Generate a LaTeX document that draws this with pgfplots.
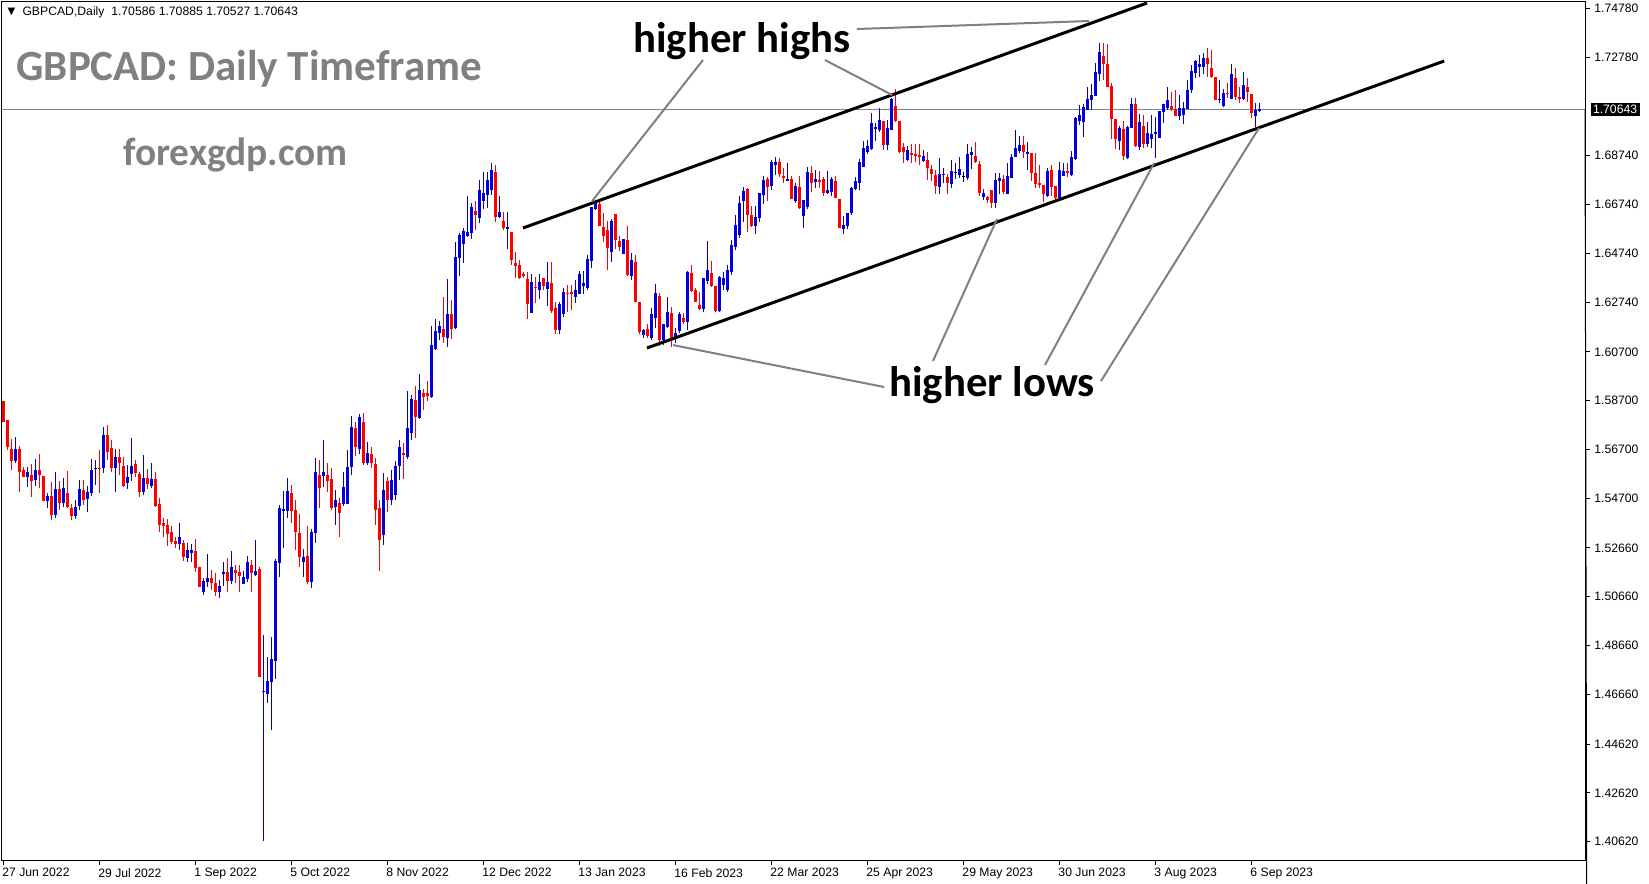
\documentclass[border=0pt]{standalone}
\usepackage{fontspec}
\setmainfont{Liberation Sans}
\newfontfamily\calib{Carlito}
\newfontfamily\dejavu{DejaVu Sans}
\usepackage{pgfplots}
\usepackage{pgfplotstable}
\pgfplotsset{compat=1.18}

\definecolor{cblue}{RGB}{0,0,215}
\definecolor{cred}{RGB}{255,0,0}
\definecolor{pline}{RGB}{119,136,153}
\definecolor{txtgray}{RGB}{128,128,128}

% daily GBPCAD candles, k = bar number from 27 Jun 2022
\pgfplotstableread{
k o h l c
0 1.5868 1.5868 1.5782 1.5782
1 1.5790 1.5790 1.5667 1.5680
2 1.5672 1.5713 1.5585 1.5622
3 1.5622 1.5721 1.5614 1.5672
4 1.5672 1.5684 1.5495 1.5577
5 1.5585 1.5598 1.5557 1.5557
6 1.5557 1.5598 1.5516 1.5577
7 1.5565 1.5610 1.5475 1.5540
8 1.5544 1.5631 1.5520 1.5585
9 1.5585 1.5651 1.5512 1.5565
10 1.5561 1.5561 1.5458 1.5458
11 1.5458 1.5491 1.5430 1.5479
12 1.5479 1.5536 1.5380 1.5401
13 1.5401 1.5577 1.5389 1.5508
14 1.5508 1.5540 1.5421 1.5450
15 1.5450 1.5553 1.5434 1.5512
16 1.5491 1.5581 1.5430 1.5434
17 1.5430 1.5446 1.5380 1.5397
18 1.5397 1.5462 1.5385 1.5434
19 1.5438 1.5544 1.5421 1.5508
20 1.5503 1.5544 1.5442 1.5462
21 1.5467 1.5520 1.5413 1.5495
22 1.5491 1.5631 1.5479 1.5585
23 1.5590 1.5626 1.5524 1.5594
24 1.5594 1.5667 1.5491 1.5590
25 1.5594 1.5762 1.5573 1.5729
26 1.5729 1.5770 1.5626 1.5659
27 1.5676 1.5708 1.5577 1.5594
28 1.5594 1.5672 1.5495 1.5639
29 1.5639 1.5672 1.5565 1.5614
30 1.5602 1.5639 1.5516 1.5520
31 1.5532 1.5606 1.5508 1.5557
32 1.5569 1.5717 1.5540 1.5602
33 1.5610 1.5626 1.5557 1.5573
34 1.5569 1.5577 1.5475 1.5495
35 1.5495 1.5647 1.5483 1.5553
36 1.5553 1.5590 1.5508 1.5528
37 1.5520 1.5614 1.5512 1.5549
38 1.5549 1.5577 1.5434 1.5438
39 1.5446 1.5471 1.5331 1.5360
40 1.5368 1.5389 1.5311 1.5356
41 1.5360 1.5385 1.5274 1.5323
42 1.5331 1.5356 1.5282 1.5290
43 1.5294 1.5311 1.5266 1.5282
44 1.5282 1.5368 1.5257 1.5311
45 1.5286 1.5298 1.5212 1.5229
46 1.5225 1.5286 1.5208 1.5257
47 1.5245 1.5282 1.5208 1.5257
48 1.5253 1.5303 1.5167 1.5184
49 1.5188 1.5188 1.5106 1.5106
50 1.5085 1.5143 1.5073 1.5130
51 1.5126 1.5241 1.5106 1.5143
52 1.5143 1.5175 1.5093 1.5122
53 1.5122 1.5163 1.5069 1.5085
54 1.5085 1.5134 1.5061 1.5110
55 1.5159 1.5208 1.5110 1.5167
56 1.5167 1.5225 1.5085 1.5130
57 1.5130 1.5253 1.5118 1.5188
58 1.5175 1.5196 1.5122 1.5163
59 1.5167 1.5196 1.5085 1.5151
60 1.5118 1.5171 1.5118 1.5147
61 1.5139 1.5233 1.5126 1.5208
62 1.5196 1.5216 1.5085 1.5163
63 1.5155 1.5298 1.5151 1.5171
64 1.5180 1.5188 1.4737 1.4737
65 1.4675 1.4909 1.4064 1.4679
66 1.4667 1.4819 1.4630 1.4720
67 1.4716 1.4901 1.4519 1.4811
68 1.4802 1.5221 1.4729 1.5212
69 1.5204 1.5442 1.5147 1.5430
70 1.5417 1.5499 1.5266 1.5426
71 1.5417 1.5553 1.5389 1.5499
72 1.5491 1.5524 1.5368 1.5417
73 1.5421 1.5462 1.5257 1.5331
74 1.5327 1.5405 1.5188 1.5229
75 1.5208 1.5262 1.5147 1.5229
76 1.5233 1.5356 1.5118 1.5126
77 1.5126 1.5344 1.5102 1.5331
78 1.5327 1.5635 1.5286 1.5577
79 1.5565 1.5626 1.5430 1.5512
80 1.5561 1.5708 1.5516 1.5577
81 1.5565 1.5614 1.5495 1.5540
82 1.5549 1.5594 1.5421 1.5430
83 1.5434 1.5503 1.5360 1.5462
84 1.5450 1.5471 1.5311 1.5409
85 1.5446 1.5577 1.5438 1.5516
86 1.5446 1.5667 1.5446 1.5598
87 1.5598 1.5807 1.5565 1.5762
88 1.5758 1.5782 1.5643 1.5680
89 1.5672 1.5815 1.5651 1.5803
90 1.5782 1.5819 1.5606 1.5614
91 1.5614 1.5700 1.5606 1.5655
92 1.5651 1.5680 1.5594 1.5614
93 1.5610 1.5635 1.5360 1.5421
94 1.5430 1.5462 1.5171 1.5298
95 1.5319 1.5573 1.5278 1.5503
96 1.5540 1.5557 1.5413 1.5462
97 1.5462 1.5585 1.5442 1.5544
98 1.5483 1.5622 1.5462 1.5602
99 1.5602 1.5708 1.5544 1.5680
100 1.5655 1.5696 1.5549 1.5647
101 1.5639 1.5909 1.5631 1.5758
102 1.5737 1.5893 1.5708 1.5877
103 1.5872 1.5930 1.5717 1.5803
104 1.5799 1.5979 1.5795 1.5913
105 1.5901 1.5918 1.5831 1.5885
106 1.5901 1.5950 1.5868 1.5889
107 1.5885 1.6176 1.5881 1.6098
108 1.6082 1.6205 1.6077 1.6155
109 1.6147 1.6196 1.6118 1.6176
110 1.6164 1.6295 1.6106 1.6131
111 1.6127 1.6369 1.6090 1.6225
112 1.6225 1.6282 1.6123 1.6164
113 1.6168 1.6520 1.6164 1.6459
114 1.6455 1.6557 1.6381 1.6549
115 1.6512 1.6578 1.6434 1.6565
116 1.6545 1.6709 1.6541 1.6561
117 1.6557 1.6680 1.6533 1.6664
118 1.6647 1.6688 1.6569 1.6631
119 1.6619 1.6774 1.6598 1.6733
120 1.6688 1.6807 1.6656 1.6721
121 1.6713 1.6807 1.6660 1.6774
122 1.6733 1.6844 1.6713 1.6815
123 1.6807 1.6836 1.6602 1.6623
124 1.6623 1.6709 1.6619 1.6643
125 1.6606 1.6643 1.6569 1.6578
126 1.6574 1.6643 1.6492 1.6582
127 1.6561 1.6561 1.6426 1.6446
128 1.6434 1.6479 1.6373 1.6422
129 1.6426 1.6446 1.6369 1.6373
130 1.6389 1.6397 1.6373 1.6381
131 1.6369 1.6397 1.6205 1.6266
132 1.6229 1.6389 1.6229 1.6356
133 1.6336 1.6377 1.6270 1.6332
134 1.6323 1.6389 1.6287 1.6356
135 1.6373 1.6373 1.6323 1.6340
136 1.6328 1.6438 1.6258 1.6356
137 1.6352 1.6438 1.6229 1.6237
138 1.6250 1.6274 1.6143 1.6159
139 1.6159 1.6274 1.6143 1.6266
140 1.6225 1.6332 1.6213 1.6315
141 1.6311 1.6344 1.6233 1.6307
142 1.6315 1.6344 1.6241 1.6307
143 1.6295 1.6364 1.6270 1.6323
144 1.6307 1.6401 1.6307 1.6389
145 1.6340 1.6401 1.6307 1.6352
146 1.6332 1.6467 1.6323 1.6451
147 1.6442 1.6664 1.6414 1.6664
148 1.6655 1.6692 1.6651 1.6684
149 1.6676 1.6692 1.6586 1.6586
150 1.6582 1.6639 1.6520 1.6545
151 1.6569 1.6606 1.6405 1.6496
152 1.6479 1.6615 1.6438 1.6606
153 1.6635 1.6635 1.6492 1.6528
154 1.6524 1.6545 1.6483 1.6500
155 1.6471 1.6533 1.6471 1.6533
156 1.6528 1.6586 1.6381 1.6385
157 1.6381 1.6475 1.6364 1.6446
158 1.6438 1.6467 1.6274 1.6274
159 1.6274 1.6274 1.6143 1.6151
160 1.6139 1.6164 1.6127 1.6159
161 1.6164 1.6184 1.6127 1.6135
162 1.6127 1.6250 1.6118 1.6225
163 1.6209 1.6348 1.6168 1.6311
164 1.6299 1.6311 1.6094 1.6118
165 1.6118 1.6184 1.6098 1.6184
166 1.6172 1.6295 1.6168 1.6233
167 1.6229 1.6254 1.6090 1.6118
168 1.6127 1.6168 1.6106 1.6147
169 1.6155 1.6233 1.6147 1.6225
170 1.6209 1.6229 1.6184 1.6192
171 1.6192 1.6401 1.6159 1.6397
172 1.6393 1.6426 1.6315 1.6319
173 1.6323 1.6332 1.6274 1.6274
174 1.6262 1.6315 1.6241 1.6246
175 1.6246 1.6373 1.6233 1.6373
176 1.6360 1.6524 1.6348 1.6405
177 1.6393 1.6442 1.6336 1.6340
178 1.6340 1.6340 1.6233 1.6237
179 1.6237 1.6381 1.6233 1.6377
180 1.6344 1.6397 1.6323 1.6373
181 1.6323 1.6426 1.6315 1.6405
182 1.6397 1.6528 1.6385 1.6508
183 1.6500 1.6631 1.6487 1.6590
184 1.6549 1.6709 1.6537 1.6680
185 1.6688 1.6746 1.6602 1.6729
186 1.6738 1.6742 1.6561 1.6631
187 1.6631 1.6668 1.6582 1.6586
188 1.6586 1.6668 1.6553 1.6623
189 1.6619 1.6721 1.6602 1.6721
190 1.6713 1.6791 1.6676 1.6774
191 1.6779 1.6787 1.6688 1.6746
192 1.6750 1.6856 1.6733 1.6848
193 1.6836 1.6869 1.6795 1.6848
194 1.6848 1.6865 1.6787 1.6799
195 1.6791 1.6824 1.6762 1.6783
196 1.6770 1.6844 1.6770 1.6779
197 1.6779 1.6791 1.6697 1.6697
198 1.6688 1.6762 1.6680 1.6750
199 1.6746 1.6791 1.6656 1.6660
200 1.6627 1.6692 1.6578 1.6692
201 1.6664 1.6828 1.6656 1.6807
202 1.6803 1.6832 1.6725 1.6762
203 1.6766 1.6815 1.6742 1.6779
204 1.6774 1.6811 1.6742 1.6766
205 1.6779 1.6787 1.6709 1.6721
206 1.6721 1.6811 1.6717 1.6733
207 1.6725 1.6787 1.6709 1.6779
208 1.6770 1.6791 1.6701 1.6701
209 1.6697 1.6697 1.6578 1.6578
210 1.6574 1.6627 1.6553 1.6590
211 1.6586 1.6639 1.6574 1.6639
212 1.6639 1.6746 1.6631 1.6742
213 1.6738 1.6787 1.6733 1.6770
214 1.6762 1.6861 1.6733 1.6848
215 1.6828 1.6934 1.6828 1.6906
216 1.6889 1.6938 1.6881 1.6914
217 1.6902 1.7049 1.6897 1.7008
218 1.6984 1.7008 1.6934 1.6992
219 1.6979 1.7070 1.6971 1.7020
220 1.7016 1.7016 1.6897 1.6918
221 1.6918 1.7020 1.6897 1.6988
222 1.6979 1.7111 1.6979 1.7107
223 1.7078 1.7148 1.7012 1.7016
224 1.7016 1.7016 1.6885 1.6889
225 1.6910 1.6926 1.6844 1.6889
226 1.6856 1.6914 1.6852 1.6897
227 1.6885 1.6922 1.6844 1.6877
228 1.6881 1.6922 1.6848 1.6873
229 1.6877 1.6922 1.6836 1.6869
230 1.6852 1.6897 1.6848 1.6873
231 1.6856 1.6889 1.6774 1.6824
232 1.6820 1.6836 1.6770 1.6799
233 1.6795 1.6815 1.6717 1.6750
234 1.6746 1.6865 1.6717 1.6799
235 1.6795 1.6824 1.6762 1.6799
236 1.6787 1.6799 1.6717 1.6762
237 1.6758 1.6856 1.6742 1.6811
238 1.6803 1.6844 1.6779 1.6807
239 1.6795 1.6869 1.6783 1.6820
240 1.6787 1.6807 1.6766 1.6787
241 1.6783 1.6922 1.6774 1.6881
242 1.6877 1.6910 1.6820 1.6889
243 1.6873 1.6930 1.6844 1.6848
244 1.6840 1.6852 1.6709 1.6721
245 1.6705 1.6738 1.6692 1.6721
246 1.6705 1.6709 1.6680 1.6692
247 1.6733 1.6733 1.6660 1.6680
248 1.6680 1.6803 1.6660 1.6774
249 1.6770 1.6803 1.6717 1.6783
250 1.6779 1.6795 1.6717 1.6725
251 1.6717 1.6844 1.6717 1.6791
252 1.6783 1.6881 1.6783 1.6869
253 1.6869 1.6979 1.6869 1.6906
254 1.6893 1.6955 1.6885 1.6918
255 1.6918 1.6955 1.6865 1.6889
256 1.6881 1.6930 1.6815 1.6889
257 1.6885 1.6885 1.6770 1.6803
258 1.6803 1.6885 1.6742 1.6758
259 1.6762 1.6836 1.6742 1.6754
260 1.6754 1.6754 1.6684 1.6717
261 1.6709 1.6824 1.6705 1.6811
262 1.6815 1.6836 1.6709 1.6746
263 1.6750 1.6750 1.6688 1.6701
264 1.6701 1.6848 1.6688 1.6815
265 1.6791 1.6844 1.6791 1.6811
266 1.6811 1.6844 1.6787 1.6803
267 1.6795 1.6893 1.6791 1.6869
268 1.6861 1.7033 1.6856 1.7029
269 1.7016 1.7082 1.7000 1.7041
270 1.7012 1.7086 1.6951 1.7074
271 1.7061 1.7156 1.7061 1.7107
272 1.7102 1.7168 1.7061 1.7123
273 1.7119 1.7254 1.7119 1.7217
274 1.7209 1.7336 1.7180 1.7299
275 1.7283 1.7336 1.7184 1.7250
276 1.7250 1.7332 1.7156 1.7156
277 1.7160 1.7172 1.6943 1.7025
278 1.7025 1.7025 1.6902 1.6943
279 1.6934 1.6996 1.6897 1.6988
280 1.6984 1.7016 1.6856 1.6873
281 1.6865 1.6996 1.6861 1.6992
282 1.6988 1.7111 1.6988 1.7086
283 1.7086 1.7111 1.6910 1.6914
284 1.6910 1.7045 1.6897 1.7012
285 1.6996 1.7041 1.6906 1.6922
286 1.6922 1.7012 1.6910 1.6967
287 1.6943 1.7041 1.6906 1.6963
288 1.6963 1.7033 1.6865 1.6971
289 1.6947 1.7057 1.6947 1.7057
290 1.7053 1.7086 1.7008 1.7086
291 1.7070 1.7156 1.7061 1.7102
292 1.7078 1.7135 1.7057 1.7066
293 1.7066 1.7143 1.7037 1.7037
294 1.7037 1.7123 1.7020 1.7070
295 1.7041 1.7094 1.7004 1.7070
296 1.7066 1.7184 1.7066 1.7143
297 1.7143 1.7246 1.7131 1.7221
298 1.7213 1.7266 1.7193 1.7262
299 1.7238 1.7287 1.7197 1.7250
300 1.7238 1.7295 1.7209 1.7275
301 1.7275 1.7316 1.7197 1.7250
302 1.7234 1.7307 1.7193 1.7197
303 1.7197 1.7197 1.7102 1.7102
304 1.7102 1.7184 1.7090 1.7107
305 1.7078 1.7148 1.7074 1.7131
306 1.7131 1.7172 1.7111 1.7127
307 1.7107 1.7250 1.7107 1.7209
308 1.7193 1.7234 1.7102 1.7115
309 1.7115 1.7156 1.7090 1.7107
310 1.7107 1.7217 1.7102 1.7164
311 1.7156 1.7193 1.7094 1.7135
312 1.7127 1.7127 1.7029 1.7049
313 1.7037 1.7090 1.6992 1.7061
314 1.7059 1.7089 1.7053 1.7064
}\candles

\pgfplotsset{
  up/.style={restrict expr to domain={\thisrow{c}-\thisrow{o}}{0.00001:1}},
  dn/.style={restrict expr to domain={\thisrow{c}-\thisrow{o}}{-1:-0.00001}},
  eq/.style={restrict expr to domain={\thisrow{c}-\thisrow{o}}{-0.000005:0.000005}},
  wick/.style={draw=none, mark=none, forget plot, error bars/.cd, y dir=plus, y explicit,
    error mark=none, error bar style={draw=#1, line width=0.5bp}},
  body/.style={draw=none, mark=none, forget plot, error bars/.cd, y dir=plus, y explicit,
    error mark=none, error bar style={draw=#1, line width=1.5bp}},
}

\begin{document}
\begin{tikzpicture}
\useasboundingbox (0,0) rectangle (824.5bp,442bp);
\begin{axis}[
  at={(0.5bp,12bp)}, anchor=south west,
  scale only axis, width=792bp, height=429.5bp,
  xmin=-0.575, xmax=395.4, ymin=1.39864, ymax=1.75083,
  clip=false,
  axis line style={line width=0.5bp},
  tick align=outside, xtick pos=left, ytick pos=right,
  major tick length=2.5bp,
  every tick/.style={black, line width=0.5bp},
  xtick={0,24,...,312},
  xticklabels={27 Jun 2022,29 Jul 2022,1 Sep 2022,5 Oct 2022,8 Nov 2022,12 Dec 2022,13 Jan 2023,16 Feb 2023,22 Mar 2023,25 Apr 2023,29 May 2023,30 Jun 2023,3 Aug 2023,6 Sep 2023},
  xticklabel style={anchor=north west, inner sep=0pt, xshift=-0.65bp, yshift=-1.5bp, font=\fontsize{6.1bp}{7bp}\selectfont},
  ytick={1.74780,1.72780,1.68740,1.66740,1.64740,1.62740,1.60700,1.58700,1.56700,1.54700,1.52660,1.50660,1.48660,1.46660,1.44620,1.42620,1.40620},
  yticklabels={1.74780,1.72780,1.68740,1.66740,1.64740,1.62740,1.60700,1.58700,1.56700,1.54700,1.52660,1.50660,1.48660,1.46660,1.44620,1.42620,1.40620},
  yticklabel style={anchor=west, inner sep=0pt, xshift=2bp, font=\fontsize{6.1bp}{7bp}\selectfont},
  scaled y ticks=false,
]
% bid line
\draw[pline, line width=0.5bp] (axis cs:-0.575,1.70643) -- (axis cs:395.4,1.70643);

\addplot[up, wick=cblue] table[x=k, y=l, y error expr=\thisrow{h}-\thisrow{l}] {\candles};
\addplot[dn, wick=cred] table[x=k, y=l, y error expr=\thisrow{h}-\thisrow{l}] {\candles};
\addplot[eq, wick=black] table[x=k, y=l, y error expr=\thisrow{h}-\thisrow{l}] {\candles};
\addplot[up, body=cblue] table[x=k, y=o, y error expr=\thisrow{c}-\thisrow{o}] {\candles};
\addplot[dn, body=cred] table[x=k, y=c, y error expr=\thisrow{o}-\thisrow{c}] {\candles};
\addplot[eq, only marks, mark=-, mark size=0.8bp, mark options={black, line width=0.5bp}, forget plot] table[x=k, y=o] {\candles};

% channel
\draw[black, line width=1.5bp] (axis cs:129.9,1.65776) -- (axis cs:285.9,1.75001);
\draw[black, line width=1.5bp] (axis cs:160.9,1.60856) -- (axis cs:360.2,1.72623);

% pointers
\draw[txtgray, line width=1bp] (axis cs:174.9,1.72664) -- (axis cs:147.2,1.66883);
\draw[txtgray, line width=1bp] (axis cs:205.4,1.72664) -- (axis cs:222.2,1.71229);
\draw[txtgray, line width=1bp] (axis cs:213.4,1.73935) -- (axis cs:271.4,1.74263);
\draw[txtgray, line width=1bp] (axis cs:220.2,1.59257) -- (axis cs:167.4,1.60979);
\draw[txtgray, line width=1bp] (axis cs:232.4,1.60323) -- (axis cs:248.4,1.66145);
\draw[txtgray, line width=1bp] (axis cs:260.4,1.60159) -- (axis cs:287.7,1.68441);
\draw[txtgray, line width=1bp] (axis cs:274.4,1.59503) -- (axis cs:313.9,1.69876);

% texts
\node[anchor=west, inner sep=0pt, text=txtgray, font=\calib\bfseries\fontsize{21.5bp}{24bp}\selectfont] at (axis cs:3.2,1.7229) {GBPCAD: Daily Timeframe};
\node[anchor=west, inner sep=0pt, text=txtgray, font=\calib\bfseries\fontsize{19.7bp}{22bp}\selectfont] at (axis cs:29.9,1.6878) {forexgdp.com};
\node[anchor=west, inner sep=0pt, font=\calib\bfseries\fontsize{21.4bp}{24bp}\selectfont] at (axis cs:157.4,1.7344) {higher highs};
\node[anchor=west, inner sep=0pt, font=\calib\bfseries\fontsize{21.4bp}{24bp}\selectfont] at (axis cs:221.4,1.5933) {higher lows};

% header
\node[anchor=west, inner sep=0pt, font=\dejavu\fontsize{5bp}{6bp}\selectfont] at (axis cs:1.0,1.7463) {▼};
\node[anchor=west, inner sep=0pt, font=\fontsize{6.1bp}{7bp}\selectfont] at (axis cs:4.7,1.7463) {GBPCAD,Daily\ \ 1.70586 1.70885 1.70527 1.70643};

% current price
\draw[black, line width=0.5bp] (axis cs:395.4,1.70643) -- ++(2.5bp,0);
\node[anchor=west, fill=black, text=white, inner xsep=1.2bp, inner ysep=1.2bp, font=\fontsize{6.1bp}{7bp}\selectfont] at (axis cs:395.4,1.70643) [xshift=2.6bp] {1.70643};
\end{axis}
\end{tikzpicture}
\end{document}
